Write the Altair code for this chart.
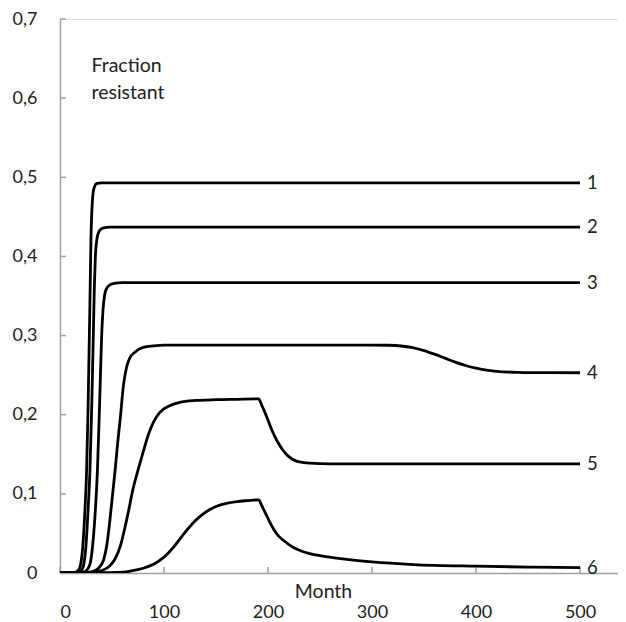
import altair as alt
import pandas as pd

FONT = "Lato"
AXIS_GRAY = "#a0a0a0"

# Series data (month, fraction resistant)
months_1 = [0, 15, 18, 20, 22, 24, 25.6, 27, 28.2, 29, 29.8, 31, 32, 33.5, 35, 40, 500]
values_1 = [0, 0.001, 0.004, 0.012, 0.035, 0.08, 0.13, 0.21, 0.298, 0.36, 0.424, 0.467, 0.482, 0.489, 0.492, 0.493, 0.493]

months_2 = [0, 18, 21, 23, 25, 27, 28.8, 30.5, 32, 33, 34, 35.5, 37, 39, 42, 48, 500]
values_2 = [0, 0.001, 0.004, 0.012, 0.035, 0.08, 0.13, 0.21, 0.298, 0.36, 0.40, 0.422, 0.430, 0.434, 0.436, 0.437, 0.437]

months_3 = [0, 22, 26, 29, 31, 33, 36, 38, 40, 41.5, 43, 45, 48, 52, 60, 500]
values_3 = [0, 0.001, 0.004, 0.012, 0.03, 0.06, 0.13, 0.21, 0.298, 0.335, 0.352, 0.360, 0.364, 0.366, 0.367, 0.367]

months_4 = [0, 25, 32, 37, 42, 45, 48, 51, 53, 55.5, 58, 61, 64, 67, 72, 80, 90, 100,
            300, 315, 330, 340, 350, 360, 370, 380, 390, 400, 410, 420, 440, 470, 500]
values_4 = [0, 0.0005, 0.002, 0.006, 0.017, 0.035, 0.067, 0.105, 0.130, 0.165, 0.196, 0.237, 0.26, 0.2715, 0.279, 0.285, 0.287, 0.288,
            0.288, 0.2878, 0.2865, 0.2845, 0.281, 0.2765, 0.2715, 0.2665, 0.2622, 0.2588, 0.2562, 0.2548, 0.2536, 0.2531, 0.253]

months_5 = [0, 30, 40, 48, 53, 58, 62, 66, 70, 75, 80, 85, 90, 96, 105, 115, 130, 150, 170, 191,
            194, 197, 200, 203, 206, 210, 215, 220, 228, 240, 260, 500]
values_5 = [0, 0.0005, 0.003, 0.009, 0.018, 0.034, 0.055, 0.079, 0.105, 0.13, 0.153, 0.175, 0.191, 0.203, 0.211, 0.2155, 0.218, 0.219, 0.2195, 0.220,
            0.212, 0.203, 0.193, 0.183, 0.174, 0.164, 0.154, 0.147, 0.141, 0.1388, 0.138, 0.138]

months_6 = [0, 40, 60, 70, 80, 90, 100, 110, 120, 130, 140, 150, 160, 170, 180, 191,
            194, 197, 200, 203, 206, 210, 215, 224, 232, 240, 250, 262, 280, 300, 340, 400, 450, 500]
values_6 = [0, 0.0003, 0.001, 0.003, 0.006, 0.011, 0.02, 0.034, 0.051, 0.066, 0.077, 0.084, 0.088, 0.0903, 0.0915, 0.0925,
            0.085, 0.077, 0.069, 0.061, 0.054, 0.047, 0.041, 0.0325, 0.0278, 0.0246, 0.0218, 0.0195, 0.0165, 0.014, 0.0107, 0.0086, 0.0075, 0.0067]

series_labels = ["1", "2", "3", "4", "5", "6"]
x_ticks = [0, 100, 200, 300, 400, 500]
y_ticks = [0, 0.1, 0.2, 0.3, 0.4, 0.5, 0.6, 0.7]

all_months = [months_1, months_2, months_3, months_4, months_5, months_6]
all_values = [values_1, values_2, values_3, values_4, values_5, values_6]

rows = []
ends = []
for lab, ms, vs in zip(series_labels, all_months, all_values):
    for m, v in zip(ms, vs):
        rows.append({"series": lab, "month": m, "value": v})
    ends.append({"series": lab, "month": ms[-1], "value": vs[-1]})
df = pd.DataFrame(rows)
df_end = pd.DataFrame(ends)
df_xt = pd.DataFrame({"t": x_ticks})
df_yt = pd.DataFrame({"t": y_ticks})

W, H = 558, 554
x_scale = alt.Scale(domain=[0, 536.5], nice=False, zero=False)
y_scale = alt.Scale(domain=[0, 0.7], nice=False)

x_axis = alt.Axis(
    values=x_ticks, ticks=False, tickSize=0, grid=False,
    domainColor=AXIS_GRAY, domainWidth=1.5,
    labelFont=FONT, labelFontSize=18, labelColor="#222222",
    labelPadding=44, labelBaseline="alphabetic",
    title="Month", titleFont=FONT, titleFontSize=19.5, titleFontWeight="normal",
    titleColor="#222222", titleX=263, titleY=24, titleAlign="center",
    titleBaseline="alphabetic", titleAnchor="start",
)
y_axis = alt.Axis(
    values=y_ticks, ticks=False, tickSize=0, grid=False,
    domainColor=AXIS_GRAY, domainWidth=1.5,
    labelFont=FONT, labelFontSize=18, labelColor="#222222",
    labelPadding=23, labelAlign="right", labelBaseline="middle",
    labelExpr="datum.value == 0 ? '0' : replace(format(datum.value, '.1f'), '.', ',')",
    title=["Fraction", "resistant"], titleFont=FONT, titleFontSize=19.5,
    titleFontWeight="normal", titleColor="#222222", titleAngle=0,
    titleX=31, titleY=52, titleAlign="left", titleBaseline="alphabetic",
    titleLineHeight=27, titleAnchor="start",
)

lines = alt.Chart(df).mark_line(
    color="black", strokeWidth=2.8, interpolate="monotone", clip=True
).encode(
    x=alt.X("month:Q", scale=x_scale, axis=x_axis),
    y=alt.Y("value:Q", scale=y_scale, axis=y_axis),
    detail="series:N",
)

labels = alt.Chart(df_end).mark_text(
    align="left", baseline="middle", dx=7, font=FONT, fontSize=18.5, color="#222222"
).encode(
    x=alt.X("month:Q", scale=x_scale),
    y=alt.Y("value:Q", scale=y_scale),
    text="series:N",
)

xticks = alt.Chart(df_xt).mark_rule(color=AXIS_GRAY, strokeWidth=1.5).encode(
    x=alt.X("t:Q", scale=x_scale),
    y=alt.value(H),
    y2=alt.value(H - 6),
)
yticks = alt.Chart(df_yt).mark_rule(color=AXIS_GRAY, strokeWidth=1.5).encode(
    y=alt.Y("t:Q", scale=y_scale),
    x=alt.value(0),
    x2=alt.value(6),
)

chart = alt.layer(xticks, yticks, lines, labels).properties(
    width=W, height=H,
    autosize=alt.AutoSizeParams(type="none"),
    padding={"left": 52, "top": 11, "right": 0, "bottom": 52},
).configure_view(stroke=None).configure(background="white")

chart.save("out.html", embed_options={"renderer": "svg", "actions": False})
